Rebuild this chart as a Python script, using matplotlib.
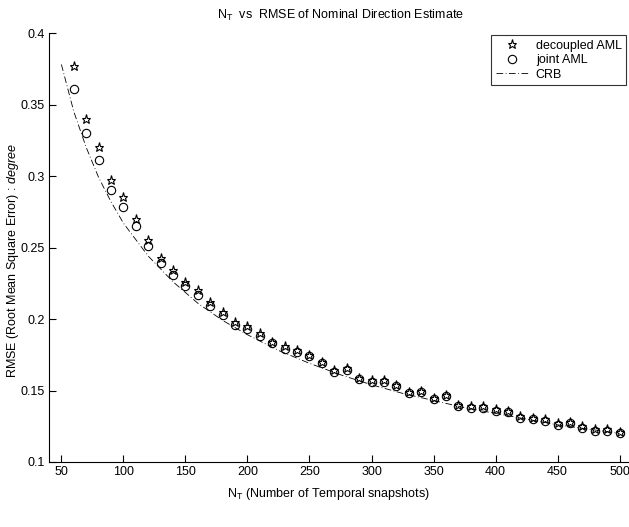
import matplotlib
matplotlib.use("Agg")
import matplotlib.pyplot as plt

plt.rcParams['font.family'] = ['Liberation Sans', 'DejaVu Sans']
plt.rcParams['mathtext.fontset'] = 'custom'
plt.rcParams['mathtext.rm'] = 'Liberation Sans'
plt.rcParams['mathtext.it'] = 'Liberation Sans:italic'

n_t = [60, 70, 80, 90, 100, 110, 120, 130, 140, 150, 160, 170, 180, 190, 200,
       210, 220, 230, 240, 250, 260, 270, 280, 290, 300, 310, 320, 330, 340, 350,
       360, 370, 380, 390, 400, 410, 420, 430, 440, 450, 460, 470, 480, 490, 500]
decoupled = [0.377, 0.340, 0.320, 0.297, 0.285, 0.270, 0.255, 0.243, 0.234, 0.226,
             0.220, 0.212, 0.205, 0.198, 0.195, 0.190, 0.184, 0.181, 0.178, 0.175,
             0.170, 0.164, 0.166, 0.159, 0.157, 0.157, 0.154, 0.149, 0.150, 0.145,
             0.147, 0.140, 0.139, 0.139, 0.137, 0.136, 0.132, 0.131, 0.130, 0.127,
             0.128, 0.125, 0.123, 0.123, 0.121]
joint = [0.361, 0.330, 0.311, 0.290, 0.278, 0.265, 0.251, 0.239, 0.231, 0.223,
         0.217, 0.209, 0.203, 0.196, 0.193, 0.188, 0.183, 0.179, 0.177, 0.174,
         0.169, 0.163, 0.164, 0.158, 0.156, 0.156, 0.153, 0.148, 0.149, 0.144,
         0.146, 0.139, 0.138, 0.138, 0.136, 0.135, 0.131, 0.130, 0.129, 0.126,
         0.127, 0.124, 0.122, 0.122, 0.120]
crb_n = [50, 60, 70, 80, 90, 100, 120, 140, 160, 180, 200, 225, 250, 275, 300,
         325, 350, 375, 400, 425, 450, 475, 500]
crb = [0.378, 0.345, 0.320, 0.299, 0.282, 0.267, 0.244, 0.226, 0.211, 0.199,
       0.189, 0.178, 0.169, 0.161, 0.154, 0.148, 0.143, 0.138, 0.134, 0.130,
       0.126, 0.123, 0.120]
x_ticks = [50, 100, 150, 200, 250, 300, 350, 400, 450, 500]
y_ticks = [0.1, 0.15, 0.2, 0.25, 0.3, 0.35, 0.4]

fig = plt.figure(figsize=(6.29, 5.27), dpi=100)
ax = fig.add_axes([49/629, 65/527, 583/629, 429/527])

ax.plot(n_t, decoupled, linestyle='none', marker='*', markersize=6.5,
        markerfacecolor='none', markeredgecolor='black', markeredgewidth=0.8,
        label='decoupled AML')
ax.plot(n_t, joint, linestyle='none', marker='o', markersize=6,
        markerfacecolor='none', markeredgecolor='black', markeredgewidth=0.8,
        label='joint AML')
ax.plot(crb_n, crb, color='black', linewidth=0.6,
        linestyle=(0, (8, 3, 1, 3)), label='CRB')

ax.set_xlim(40, 510)
ax.set_ylim(0.1, 0.4)
ax.set_xticks(x_ticks)
ax.set_yticks(y_ticks)
ax.set_xticklabels([str(v) for v in x_ticks])
ax.set_yticklabels(['0.1', '0.15', '0.2', '0.25', '0.3', '0.35', '0.4'])
ax.tick_params(direction='in', length=5, width=0.8, labelsize=9, pad=3)
ax.spines['top'].set_visible(False)
ax.spines['right'].set_visible(False)
for s in ('left', 'bottom'):
    ax.spines[s].set_linewidth(0.8)

ax.set_title(r'N$_\mathregular{T}$  vs  RMSE of Nominal Direction Estimate',
             fontsize=9, pad=10)
ax.set_xlabel(r'N$_\mathregular{T}$ (Number of Temporal snapshots)', fontsize=9)
ax.set_ylabel(r'RMSE (Root Mean Square Error) : $\it{degree}$', fontsize=9)
ax.yaxis.set_label_coords(-0.048, 0.47)
ax.xaxis.set_label_coords(0.479, -0.055)

leg = ax.legend(loc='upper right', bbox_to_anchor=(0.99, 0.995), fontsize=9,
                frameon=True, fancybox=False, borderpad=0.35, labelspacing=0.2,
                handlelength=2.6, handletextpad=0.6, borderaxespad=0)
leg.get_frame().set_edgecolor('black')
leg.get_frame().set_linewidth(0.8)

fig.savefig('out.png', dpi=100)
